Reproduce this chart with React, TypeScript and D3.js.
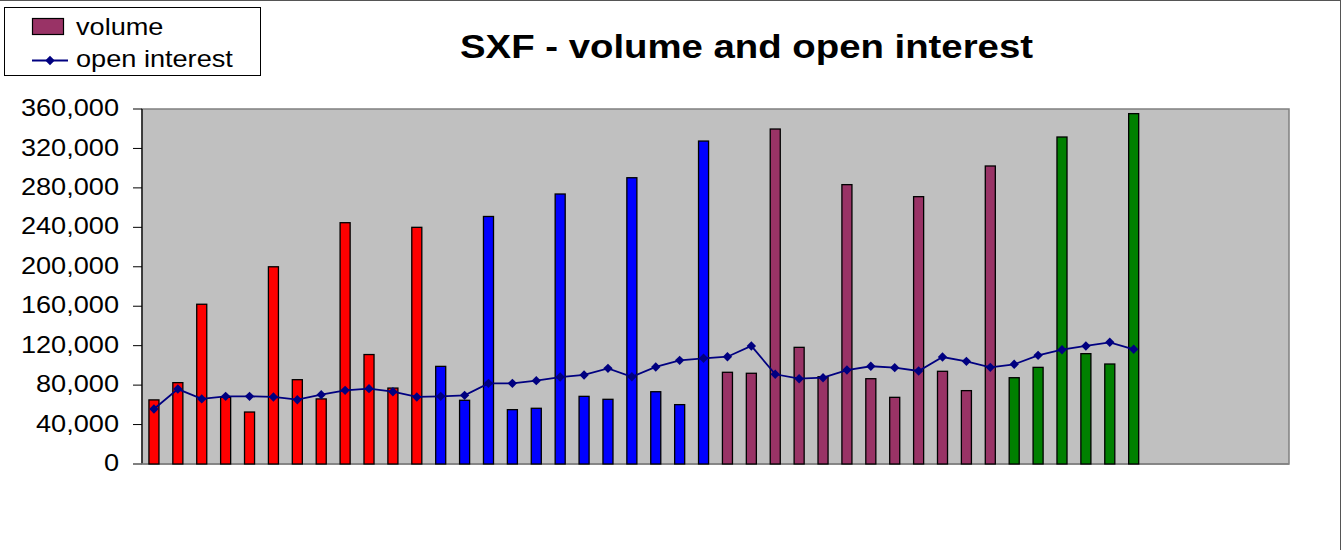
import React, { useEffect, useRef } from 'react';
import * as d3 from 'd3';

// monthly volume and open interest, four yearly colour groups
const months = ["Jan", "Feb", "Mar", "Apr", "May", "Jun", "Jul", "Aug", "Sep", "Oct", "Nov", "Dec"];
const years = ["Y1", "Y2", "Y3", "Y4"];
const yearColors = ["#FF0000", "#0000FF", "#993366", "#008000"];

const volume = [
  65000, 82500, 162000, 67600, 52700, 200000, 85500, 66000, 244700, 111000, 77000, 240000,
  99000, 64600, 251000, 55100, 56500, 273800, 68600, 65600, 290300, 73300, 60200, 327500,
  93000, 92000, 339700, 118300, 88500, 283300, 86500, 67600, 271100, 94000, 74400, 302200,
  87500, 98000, 331600, 111900, 101400, 355300,
];

const openInterest = [
  55800, 76000, 66000, 68600, 68600, 68000, 65200, 70300, 74700, 76400, 73300, 68000,
  68600, 69600, 81800, 81800, 84500, 88200, 90300, 97000, 88500, 98400, 105100, 107200,
  108800, 119700, 91000, 86500, 87500, 95300, 99100, 97700, 94300, 108500, 104100, 98000,
  101100, 110200, 115900, 119700, 123400, 116300,
];

const yTicks = [0, 40000, 80000, 120000, 160000, 200000, 240000, 280000, 320000, 360000];

export default function App() {
  const svgRef = useRef<SVGSVGElement>(null);

  useEffect(() => {
    if (!svgRef.current) return;
    const svg = d3.select(svgRef.current);
    svg.selectAll('*').remove();

    const width = 1342;
    const height = 550;
    const plot = { left: 142, right: 1289, top: 109, bottom: 464 };
    const sx = 1.18; // the original is stretched horizontally
    const font = "'Liberation Sans', Arial, sans-serif";

    const categories = years.flatMap(y => months.map(m => `${m} ${y}`));

    const x = d3.scaleBand<string>()
      .domain(categories)
      .range([plot.left, plot.right])
      .paddingInner(0.58)
      .paddingOuter(0.29);

    const y = d3.scaleLinear()
      .domain([0, 360000])
      .range([plot.bottom, plot.top]);

    const addText = (
      g: d3.Selection<any, unknown, null, undefined>,
      tx: number, ty: number, str: string, size: number,
      anchor = "start", weight = "normal", dy = "0"
    ) => {
      g.append("text")
        .attr("transform", `translate(${tx},${ty}) scale(${sx},1)`)
        .attr("text-anchor", anchor)
        .attr("dy", dy)
        .attr("font-family", font)
        .attr("font-size", size)
        .attr("font-weight", weight)
        .attr("fill", "#000")
        .text(str);
    };

    // chart border (only top and right show in the crop)
    svg.append("rect")
      .attr("x", -1).attr("y", 0.5)
      .attr("width", width - 0.5).attr("height", height + 10)
      .attr("fill", "#fff")
      .attr("stroke", "#555")
      .attr("stroke-width", 1);

    // plot area
    svg.append("rect")
      .attr("x", plot.left).attr("y", plot.top)
      .attr("width", plot.right - plot.left).attr("height", plot.bottom - plot.top)
      .attr("fill", "#C0C0C0")
      .attr("stroke", "#808080")
      .attr("stroke-width", 1.5);

    // y axis
    const axis = svg.append("g");
    axis.append("line")
      .attr("x1", plot.left).attr("x2", plot.left)
      .attr("y1", plot.top).attr("y2", plot.bottom)
      .attr("stroke", "#000").attr("stroke-width", 1.2);
    yTicks.forEach(t => {
      axis.append("line")
        .attr("x1", plot.left - 9).attr("x2", plot.left)
        .attr("y1", y(t)).attr("y2", y(t))
        .attr("stroke", "#000").attr("stroke-width", 1);
      addText(axis, 119, y(t), d3.format(",")(t), 23, "end", "normal", "0.31em");
    });
    axis.append("line")
      .attr("x1", plot.left - 9).attr("x2", plot.right)
      .attr("y1", plot.bottom).attr("y2", plot.bottom)
      .attr("stroke", "#808080").attr("stroke-width", 1.5);

    // volume bars
    svg.append("g")
      .selectAll("rect")
      .data(volume)
      .join("rect")
      .attr("x", (_, i) => x(categories[i])!)
      .attr("y", d => y(d))
      .attr("width", x.bandwidth())
      .attr("height", d => plot.bottom - y(d))
      .attr("fill", (_, i) => yearColors[Math.floor(i / 12)])
      .attr("stroke", "#000")
      .attr("stroke-width", 1.3);

    // open interest line
    const cx = (i: number) => x(categories[i])! + x.bandwidth() / 2;
    const line = d3.line<number>()
      .x((_, i) => cx(i))
      .y(d => y(d));
    svg.append("path")
      .datum(openInterest)
      .attr("d", line)
      .attr("fill", "none")
      .attr("stroke", "#000080")
      .attr("stroke-width", 1.8);

    const marker = d3.symbol().type(d3.symbolSquare).size(44)();
    svg.append("g")
      .selectAll("path")
      .data(openInterest)
      .join("path")
      .attr("transform", (d, i) => `translate(${cx(i)},${y(d)}) rotate(45)`)
      .attr("d", marker)
      .attr("fill", "#000080");

    // title
    addText(svg as any, 746.5, 58, "SXF - volume and open interest", 32.5, "middle", "bold");

    // legend
    const lg = svg.append("g");
    lg.append("rect")
      .attr("x", 4.5).attr("y", 7.5)
      .attr("width", 256).attr("height", 68)
      .attr("fill", "#fff")
      .attr("stroke", "#000");
    lg.append("rect")
      .attr("x", 32.5).attr("y", 18.5)
      .attr("width", 31).attr("height", 16)
      .attr("fill", "#993366")
      .attr("stroke", "#000")
      .attr("stroke-width", 1.2);
    addText(lg, 76, 35, "volume", 23);
    lg.append("line")
      .attr("x1", 32).attr("x2", 68)
      .attr("y1", 60.5).attr("y2", 60.5)
      .attr("stroke", "#000080").attr("stroke-width", 1.8);
    lg.append("path")
      .attr("transform", "translate(50,60.5) rotate(45)")
      .attr("d", marker)
      .attr("fill", "#000080");
    addText(lg, 76, 67, "open interest", 23);
  }, []);

  return (
    <svg
      ref={svgRef}
      width={1342}
      height={550}
      style={{ position: 'absolute', left: 0, top: 0, display: 'block', background: '#fff' }}
    />
  );
}
